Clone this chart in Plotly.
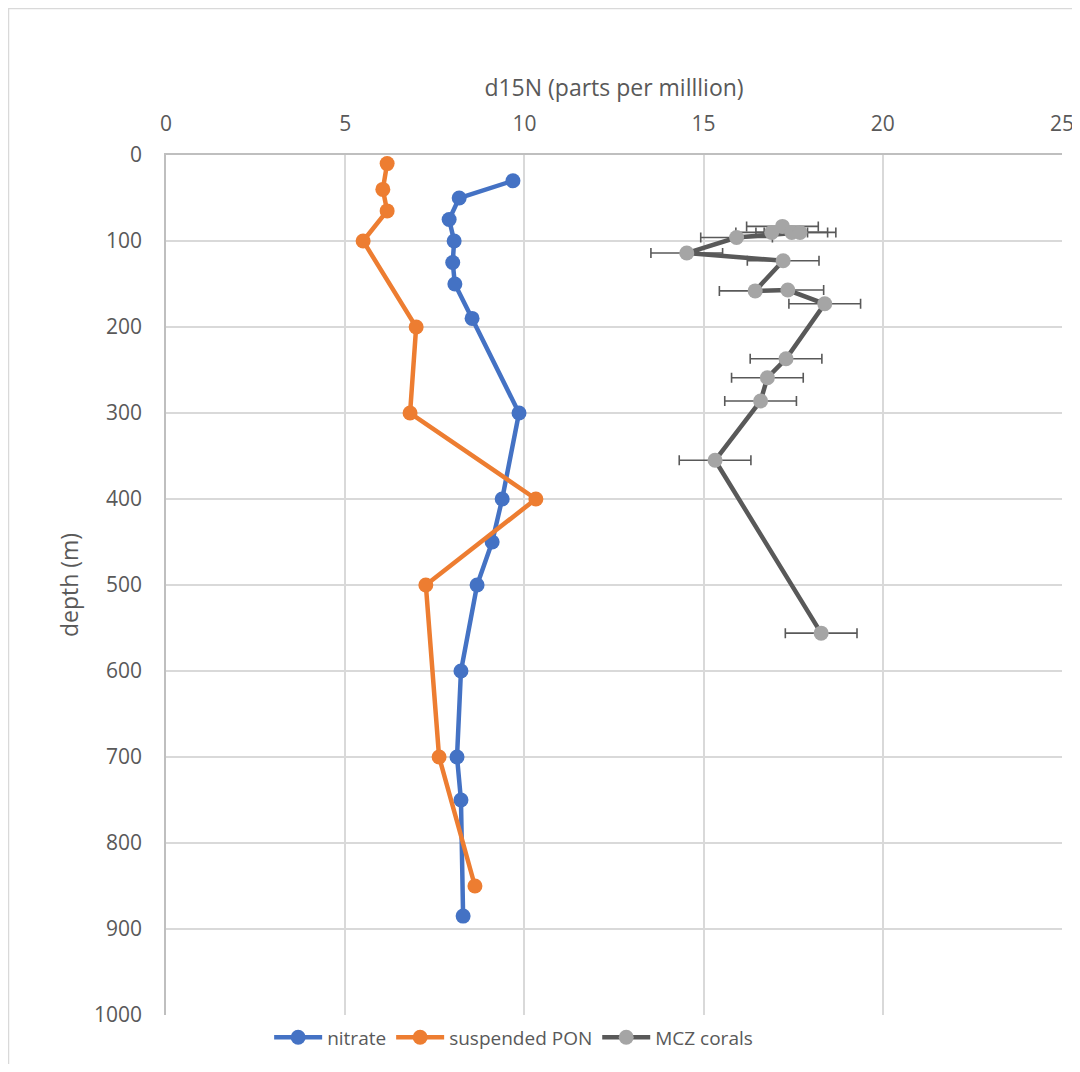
import plotly.graph_objects as go

# nitrate
nitrate_d15n = [9.68, 8.18, 7.90, 8.04, 8.00, 8.06, 8.54, 9.85, 9.38, 9.10, 8.68, 8.23, 8.12, 8.23, 8.29]
nitrate_depth = [30, 50, 75, 100, 125, 150, 190, 300, 400, 450, 500, 600, 700, 750, 885]

# suspended PON
pon_d15n = [6.17, 6.05, 6.17, 5.50, 6.98, 6.81, 10.32, 7.25, 7.62, 8.62]
pon_depth = [10, 40, 65, 100, 200, 300, 400, 500, 700, 850]

# MCZ corals (order as connected in the chart)
coral_d15n = [17.20, 16.90, 17.46, 17.69, 15.92, 14.53, 17.22, 16.44, 17.35, 18.38, 17.30, 16.78, 16.59, 15.32, 18.28]
coral_depth = [83, 90, 90, 90, 96, 114, 123, 158, 157, 173, 237, 259, 286, 355, 556]
coral_err = [1.0] * 15

x_ticks = [0, 5, 10, 15, 20, 25]
y_ticks = [0, 100, 200, 300, 400, 500, 600, 700, 800, 900, 1000]

FONT = "Open Sans, Liberation Sans, sans-serif"
TXT = "#595959"

W, H = 1072, 1056
L, R, T, B = 158, 18, 147, 49
PW, PH = W - L - R, H - T - B

fig = go.Figure()
fig.add_trace(go.Scatter(
    x=nitrate_d15n, y=nitrate_depth, name="nitrate", mode="lines+markers",
    line=dict(color="#4472C4", width=4.5),
    marker=dict(color="#4472C4", size=15),
))
fig.add_trace(go.Scatter(
    x=pon_d15n, y=pon_depth, name="suspended PON", mode="lines+markers",
    line=dict(color="#ED7D31", width=4.5),
    marker=dict(color="#ED7D31", size=15),
))
fig.add_trace(go.Scatter(
    x=coral_d15n, y=coral_depth, name="MCZ corals", mode="lines+markers",
    line=dict(color="#595959", width=4.5),
    marker=dict(color="#A5A5A5", size=15),
    error_x=dict(type="data", array=coral_err, symmetric=True,
                 color="#595959", thickness=1.6, width=5),
))

fig.update_layout(
    width=W, height=H,
    margin=dict(l=L, r=R, t=T, b=B, autoexpand=False),
    paper_bgcolor="white", plot_bgcolor="white",
    font=dict(family=FONT, size=20, color=TXT),
    showlegend=True,
    legend=dict(orientation="h", x=0.388, xanchor="center", y=-0.004, yanchor="top",
                font=dict(family=FONT, size=19, color=TXT),
                itemwidth=48, tracegroupgap=0),
    xaxis=dict(
        side="top", range=[0, 25], tickvals=x_ticks, automargin=False,
        showgrid=True, gridcolor="#D9D9D9", gridwidth=1.5,
        showline=True, linecolor="#BFBFBF", linewidth=1.5,
        zeroline=False, ticks="", ticklabelstandoff=14,
        tickfont=dict(family=FONT, size=21, color=TXT),
        title=dict(text="d15N (parts per milllion)", standoff=6,
                   font=dict(family=FONT, size=23, color=TXT)),
    ),
    yaxis=dict(
        range=[1000, 0], tickvals=y_ticks, automargin=False,
        showgrid=True, gridcolor="#D9D9D9", gridwidth=1.5,
        showline=True, linecolor="#BFBFBF", linewidth=1.5,
        zeroline=False, ticks="", ticklabelstandoff=18,
        tickfont=dict(family=FONT, size=21, color=TXT),
        title=dict(text="depth (m)", standoff=9,
                   font=dict(family=FONT, size=23, color=TXT)),
    ),
)

fig.add_shape(type="rect", xref="paper", yref="paper",
              x0=-(L - 0.5) / PW, y0=-1.2, x1=1.2, y1=1 + (T - 0.5) / PH,
              line=dict(color="#D9D9D9", width=1.5), layer="below")

fig.write_html("out.html")
